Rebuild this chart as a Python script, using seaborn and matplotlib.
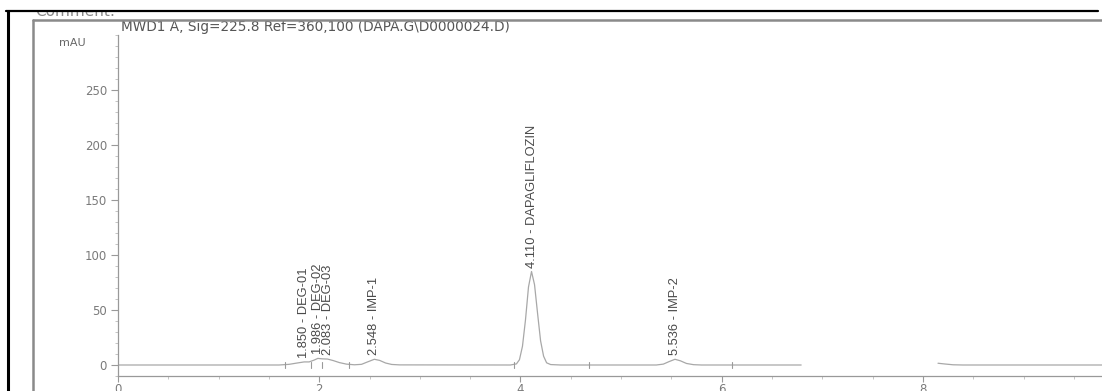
import numpy as np
import pandas as pd
import seaborn as sns
import matplotlib.pyplot as plt
from matplotlib.lines import Line2D
from matplotlib.patches import Rectangle
from matplotlib.ticker import MultipleLocator

seg1_time = [0.00, 1.60, 1.70, 1.78, 1.850, 1.90, 1.95, 1.986, 2.03, 2.083, 2.14, 2.20, 2.27, 2.35,
             2.42, 2.48, 2.548, 2.60, 2.66, 2.72, 2.80, 3.90, 3.96, 3.99, 4.02, 4.05, 4.08,
             4.110, 4.14, 4.17, 4.20, 4.23, 4.26, 4.30, 4.40, 5.35, 5.42, 5.48, 5.536, 5.59,
             5.65, 5.72, 5.80, 6.79]
seg1_mau = [0.0, 0.0, 0.6, 1.8, 2.8, 2.8, 4.5, 6.0, 5.6, 5.4, 4.0, 2.2, 0.8, 0.2,
            0.6, 2.8, 5.2, 4.2, 1.8, 0.5, 0.1, 0.0, 1.0, 4.8, 17.0, 41.0, 71.0,
            85.0, 73.0, 47.0, 22.0, 8.0, 2.0, 0.4, 0.0, 0.0, 0.8, 3.2, 5.2, 3.8,
            1.4, 0.3, 0.0, 0.0]
seg2_time = [8.15, 8.22, 8.30, 8.40, 9.80]
seg2_mau = [1.6, 0.9, 0.2, 0.0, 0.0]

# integrated peaks
peak_times = [1.850, 1.986, 2.083, 2.548, 4.110, 5.536]
peak_heights = [2.8, 6.0, 5.4, 5.2, 85.0, 5.2]
peak_names = ["DEG-01", "DEG-02", "DEG-03", "IMP-1", "DAPAGLIFLOZIN", "IMP-2"]
label_offsets = [4, 4, 4, 4, 3, 4]

# baseline start/stop marks
mark_times = [1.66, 1.92, 2.03, 2.30, 3.94, 4.68, 6.10]

title = "MWD1 A, Sig=225.8 Ref=360,100 (DAPA.G\\D0000024.D)"

df = pd.DataFrame({
    "time": seg1_time + seg2_time,
    "mAU": seg1_mau + seg2_mau,
    "seg": [1] * len(seg1_time) + [2] * len(seg2_time),
})

sns.set_style("ticks")
plt.rcParams["font.family"] = ["DejaVu Sans"]

W, H = 1102, 391
fig = plt.figure(figsize=(W / 100, H / 100), dpi=100)
ax = fig.add_axes([118 / W, 1 - 376 / H, 1 - 118 / W, (376 - 35) / H])

sns.lineplot(data=df, x="time", y="mAU", units="seg", estimator=None, sort=False,
             color="#a8a8a8", linewidth=0.9, ax=ax)

# baseline marks
for t in mark_times:
    ax.plot([t, t], [-2.5, 2.5], color="#9a9a9a", linewidth=0.8)

# peak labels
for t, h, name, off in zip(peak_times, peak_heights, peak_names, label_offsets):
    ax.text(t, h + off, f"{t:.3f} - {name}", rotation=90, ha="center", va="bottom",
            fontsize=9.3, color="#4a4a4a", family=["Liberation Sans", "DejaVu Sans"])

ax.set_xlim(0, 9.78)
ax.set_ylim(-10, 300)
ax.set_xlabel("")
ax.set_ylabel("")
ax.xaxis.set_major_locator(MultipleLocator(2))
ax.xaxis.set_minor_locator(MultipleLocator(0.5))
ax.yaxis.set_major_locator(MultipleLocator(50))
ax.yaxis.set_minor_locator(MultipleLocator(10))
ax.set_yticks([0, 50, 100, 150, 200, 250])
ax.tick_params(axis="both", which="major", length=5, width=0.8, color="#999999",
               labelcolor="#7a7a7a", labelsize=8.5, pad=3)
ax.tick_params(axis="x", which="major", length=4, pad=1)
ax.tick_params(axis="both", which="minor", length=2.5, width=0.6, color="#bbbbbb")
for side in ["top", "right"]:
    ax.spines[side].set_visible(False)
for side in ["left", "bottom"]:
    ax.spines[side].set_color("#999999")
    ax.spines[side].set_linewidth(0.9)
ax.set_facecolor("none")

# header texts
fig.text(121 / W, 1 - 27 / H, title, ha="left", va="center", fontsize=9.8, color="#555555")
fig.text(72 / W, 1 - 43 / H, "mAU", ha="center", va="center", fontsize=8, color="#666666")
fig.text(35 / W, 1 - 11.5 / H, "Comment:", ha="left", va="center", fontsize=11, color="#888888")

# frame lines of the screenshot
fig.add_artist(Rectangle((0, 1 - 11 / H), 1, 11 / H, transform=fig.transFigure,
                         facecolor="white", edgecolor="none", zorder=5))
fig.add_artist(Line2D([6 / W, 1098 / W], [1 - 11 / H, 1 - 11 / H], transform=fig.transFigure,
                      color="black", linewidth=1.6, zorder=6))
fig.add_artist(Line2D([7.5 / W, 7.5 / W], [0, 1 - 11 / H], transform=fig.transFigure,
                      color="black", linewidth=2.2, zorder=6))
fig.add_artist(Line2D([33 / W, 1], [1 - 19.5 / H, 1 - 19.5 / H], transform=fig.transFigure,
                      color="#8a8a8a", linewidth=1.8, zorder=6))
fig.add_artist(Line2D([33 / W, 33 / W], [0, 1 - 19.5 / H], transform=fig.transFigure,
                      color="#8a8a8a", linewidth=1.8, zorder=6))

fig.savefig("out.png", dpi=100)
